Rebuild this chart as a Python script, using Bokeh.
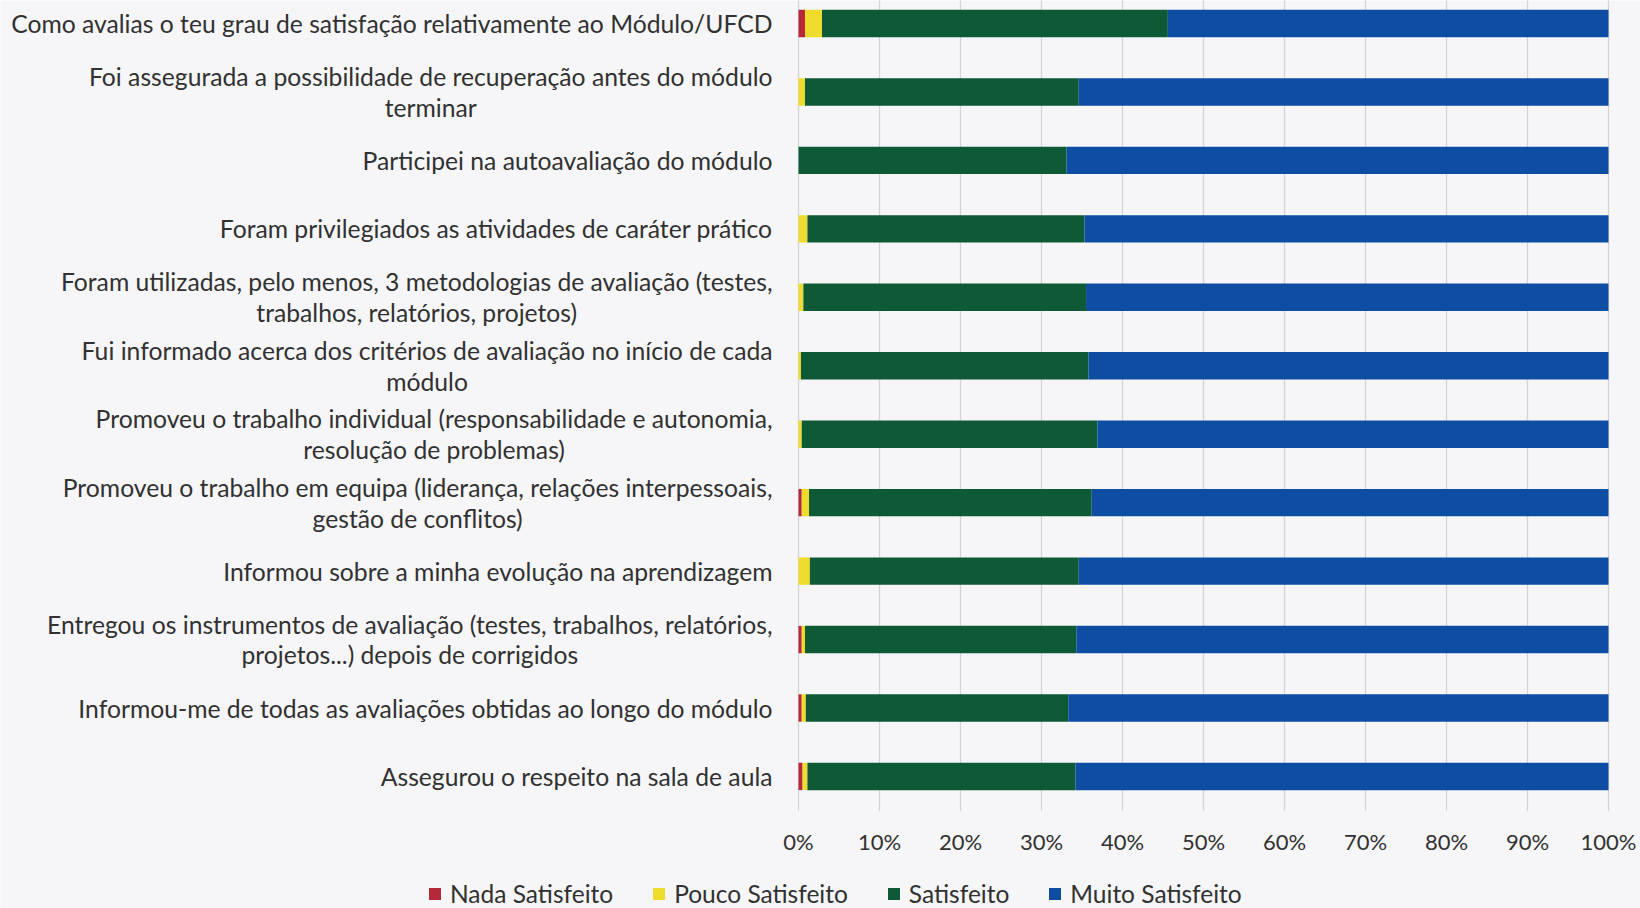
from bokeh.plotting import figure
from bokeh.models import ColumnDataSource, Range1d, FixedTicker
from bokeh.core.properties import value
from bokeh.embed import file_html
from bokeh.resources import INLINE

questions = [
    "Como avalias o teu grau de satisfação relativamente ao Módulo/UFCD",
    "Foi assegurada a possibilidade de recuperação antes do módulo\nterminar",
    "Participei na autoavaliação do módulo",
    "Foram privilegiados as atividades de caráter prático",
    "Foram utilizadas, pelo menos, 3 metodologias de avaliação (testes,\ntrabalhos, relatórios, projetos)",
    "Fui informado acerca dos critérios de avaliação no início de cada\nmódulo",
    "Promoveu o trabalho individual (responsabilidade e autonomia,\nresolução de problemas)",
    "Promoveu o trabalho em equipa (liderança, relações interpessoais,\ngestão de conflitos)",
    "Informou sobre a minha evolução na aprendizagem",
    "Entregou os instrumentos de avaliação (testes, trabalhos, relatórios,\nprojetos...) depois de corrigidos",
    "Informou-me de todas as avaliações obtidas ao longo do módulo",
    "Assegurou o respeito na sala de aula",
]

nada = [0.8, 0.0, 0.0, 0.0, 0.0, 0.0, 0.0, 0.4, 0.0, 0.4, 0.4, 0.5]
pouco = [2.1, 0.8, 0.0, 1.1, 0.6, 0.3, 0.4, 0.9, 1.4, 0.4, 0.5, 0.6]
satisfeito = [42.7, 33.8, 33.1, 34.2, 34.9, 35.5, 36.5, 34.9, 33.2, 33.5, 32.4, 33.1]
muito = [100 - a - b - c for a, b, c in zip(nada, pouco, satisfeito)]

series_names = ["Nada Satisfeito", "Pouco Satisfeito", "Satisfeito", "Muito Satisfeito"]
series_colors = ["#b5283a", "#f0dc2c", "#0f5a36", "#0d4ea3"]

tick_values = [0.0, 0.1, 0.2, 0.3, 0.4, 0.5, 0.6, 0.7, 0.8, 0.9, 1.0]
tick_labels = ["0%", "10%", "20%", "30%", "40%", "50%", "60%", "70%", "80%", "90%", "100%"]

n = len(questions)
ypos = [n - 1 - i for i in range(n)]

source = ColumnDataSource(dict(
    y=ypos,
    label=questions,
    nada=[v / 100 for v in nada],
    pouco=[v / 100 for v in pouco],
    satisfeito=[v / 100 for v in satisfeito],
    muito=[v / 100 for v in muito],
))

FONT = "Lato"
TXT = "#313131"

W, H = 1640, 908
# horizontal layout (pixels)
zero_px, full_px = 798.0, 1608.0
sx = full_px - zero_px
x0 = -zero_px / sx
x1 = (W - zero_px) / sx
# vertical layout (pixels)
row_px = 68.45
top_center_px = 23.0
y_top = (n - 1) + top_center_px / row_px
y_bot = y_top - H / row_px

p = figure(width=W, height=H, output_backend="svg", toolbar_location=None,
           x_range=Range1d(x0, x1), y_range=Range1d(y_bot, y_top),
           y_axis_location=None, min_border=0)
p.outline_line_color = None
p.background_fill_color = "#f6f6f8"
p.border_fill_color = "#f6f6f8"
p.xgrid.grid_line_color = None
p.ygrid.grid_line_color = None

# vertical grid lines over the category band
p.segment(x0=tick_values, x1=tick_values, y0=[-0.5] * len(tick_values),
          y1=[y_top + 1] * len(tick_values), line_color="#d4d4d8", line_width=1.3)

p.hbar_stack(["nada", "pouco", "satisfeito", "muito"], y="y", height=0.4,
             color=series_colors, source=source, legend_label=series_names,
             line_color=None)

p.text(x=-26 / sx, y="y", text="label", source=source,
       text_font=value(FONT), text_font_size="24.7px", text_color=TXT,
       text_align="center", anchor=value("center_right"),
       text_line_height=1.06)

ax = p.xaxis[0]
ax.fixed_location = -0.5
ax.ticker = FixedTicker(ticks=tick_values)
ax.major_label_overrides = {v: l for v, l in zip(tick_values, tick_labels)}
ax.axis_line_color = None
ax.major_tick_line_color = None
ax.minor_tick_line_color = None
ax.major_tick_out = 0
ax.major_label_standoff = 17
ax.major_label_text_font = FONT
ax.major_label_text_font_size = "22px"
ax.major_label_text_color = TXT

lg = p.legend[0]
lg.orientation = "horizontal"
lg.location = (427, 0)
lg.margin = 0
lg.padding = 0
lg.spacing = 38
lg.glyph_width = 15
lg.glyph_height = 15
lg.label_standoff = 8
lg.label_text_font = FONT
lg.label_text_font_size = "24.5px"
lg.label_text_color = TXT
lg.border_line_color = None
lg.background_fill_alpha = 0

open("out.html", "w").write(file_html(p, INLINE))
